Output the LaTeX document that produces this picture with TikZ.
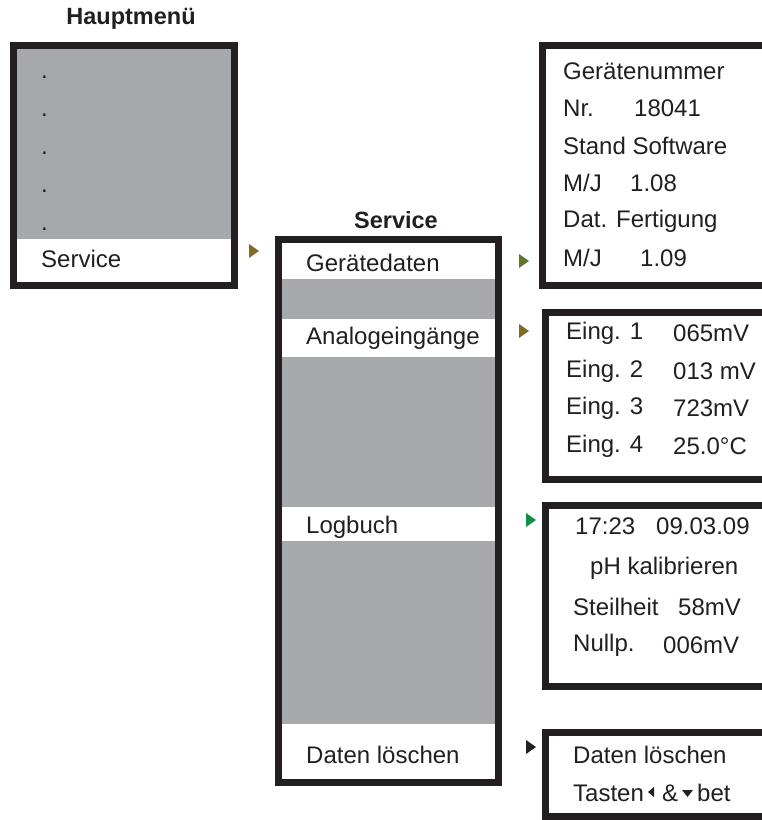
\documentclass[tikz,border=0pt]{standalone}
\usepackage{fontspec}
\setmainfont{Liberation Sans}
\definecolor{panelgray}{HTML}{A7A8AB}
\definecolor{frame}{HTML}{231F20}
\definecolor{arrowbrown}{HTML}{7F6B2A}
\definecolor{arrowolive}{HTML}{5F7530}
\definecolor{arrowgreen}{HTML}{10904A}
\tikzset{
  x=1pt,y=-1pt,
  boxframe/.style={draw=frame,line width=7pt},
  txt/.style={anchor=west,inner sep=0pt,font=\fontsize{24}{28}\selectfont,text=frame},
  ttl/.style={anchor=center,inner sep=0pt,font=\fontsize{23.5}{28}\selectfont\bfseries,text=frame},
}
\newcommand{\mytri}[3]{\fill[#1] (#2,#3) -- ++(10,7) -- ++(-10,7) -- cycle;}
\begin{document}
\begin{tikzpicture}
\useasboundingbox (0,0) rectangle (762,820);
\clip (0,0) rectangle (762,820);
\fill[white] (0,0) rectangle (762,820);

% Hauptmenue
\node[ttl] (t1) at (131,19) {Hauptmenü};
\fill[panelgray] (17,49) rectangle (231,239);
\fill[white] (17,239) rectangle (231,282);
\draw[boxframe] (13.5,45.5) rectangle (234.5,285.5);
\node[txt,anchor=base west] (d1) at (41,78) {.};
\node[txt,anchor=base west] (d2) at (41,116) {.};
\node[txt,anchor=base west] (d3) at (41,154) {.};
\node[txt,anchor=base west] (d4) at (41,192) {.};
\node[txt,anchor=base west] (d5) at (41,230) {.};
\node[txt] (hs) at (41,259) {Service};

% Service menu
\node[ttl] (t2) at (396,220) {Service};
\fill[panelgray] (282,243) rectangle (495,779);
\fill[white] (282,243) rectangle (495,279);
\fill[white] (282,319) rectangle (495,357);
\fill[white] (282,507) rectangle (495,541);
\fill[white] (282,724) rectangle (495,779);
\draw[boxframe] (278.5,239.5) rectangle (498.5,782.5);
\node[txt] (s1) at (306,263) {Gerätedaten};
\node[txt] (s2) at (306,338) {Analogeingänge};
\node[txt] (s3) at (306,527) {Logbuch};
\node[txt] (s4) at (306,755) {Daten löschen};

% right boxes
\draw[boxframe] (780,45.5) -- (542.5,45.5) -- (542.5,285.5) -- (780,285.5);
\draw[boxframe] (780,312.5) -- (545.5,312.5) -- (545.5,479.5) -- (780,479.5);
\draw[boxframe] (780,505.5) -- (545.5,505.5) -- (545.5,686.5) -- (780,686.5);
\draw[boxframe] (780,732.5) -- (545.5,732.5) -- (545.5,816.5) -- (780,816.5);

% box 1
\node[txt] (g1) at (563,71) {Gerätenummer};
\node[txt] (g2) at (563,108) {Nr.};
\node[txt] (g2v) at (634,108) {18041};
\node[txt] (g3) at (563,146) {Stand Software};
\node[txt] (g4) at (563,183) {M/J};
\node[txt] (g4v) at (630,183) {1.08};
\node[txt] (g5) at (563,221) {Dat. Fertigung};
\node[txt] (g6) at (563,258) {M/J};
\node[txt] (g6v) at (640,258) {1.09};

% box 2
\node[txt] (e1) at (566,333) {Eing. 1};
\node[txt] (ev1) at (673,333) {065mV};
\node[txt] (e2) at (566,371) {Eing. 2};
\node[txt] (ev2) at (673,371) {013 mV};
\node[txt] (e3) at (566,408) {Eing. 3};
\node[txt] (ev3) at (673,408) {723mV};
\node[txt] (e4) at (566,446) {Eing. 4};
\node[txt] (ev4) at (673,446) {25.0°C};

% box 3
\node[txt] (l1) at (575,526) {17:23};
\node[txt] (l1v) at (656,526) {09.03.09};
\node[txt] (l2) at (590,568) {pH kalibrieren};
\node[txt] (l3) at (573,607) {Steilheit};
\node[txt] (l3v) at (678,607) {58mV};
\node[txt] (l4) at (573,645) {Nullp.};
\node[txt] (l4v) at (663,645) {006mV};

% box 4
\node[txt] (x1) at (573,755) {Daten löschen};
\node[txt] (x2a) at (573,793) {Tasten};
\node[txt] (x2b) at (662,793) {\&};
\node[txt] (x2c) at (697,793) {bet};
\fill[frame] (648,792) -- (654,787) -- (654,797) -- cycle;
\fill[frame] (682,790) -- (693,790) -- (687.5,797) -- cycle;

% arrows
\mytri{arrowbrown}{249}{244}
\mytri{arrowolive}{519}{254}
\mytri{arrowbrown}{519}{324}
\mytri{arrowgreen}{526}{513}
\mytri{frame}{526}{740}
\end{tikzpicture}
\end{document}
